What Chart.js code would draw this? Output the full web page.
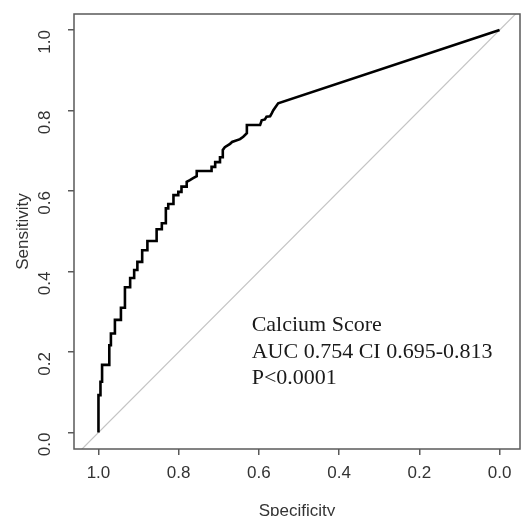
<!DOCTYPE html>
<html>
<head>
<meta charset="utf-8">
<script src="https://cdn.jsdelivr.net/npm/chart.js@4/dist/chart.umd.min.js"></script>
<style>
  html, body { margin: 0; padding: 0; background: #ffffff; }
  #wrap { width: 526px; height: 516px; }
</style>
</head>
<body>
<div id="wrap"><canvas id="c" width="526" height="516"></canvas></div>
<script>
// ROC curve: specificity (x, reversed) and sensitivity (y)
const specificity = [1.000,1.000,0.995,0.995,0.991,0.991,0.973,0.973,0.969,0.969,0.959,0.959,0.944,0.944,0.934,0.934,0.921,0.921,0.911,0.911,0.903,0.903,0.891,0.891,0.878,0.878,0.855,0.855,0.842,0.842,0.832,0.832,0.826,0.826,0.813,0.813,0.801,0.801,0.793,0.793,0.780,0.780,0.772,0.764,0.755,0.755,0.718,0.718,0.709,0.709,0.697,0.697,0.690,0.690,0.685,0.672,0.667,0.647,0.639,0.630,0.630,0.597,0.593,0.585,0.581,0.572,0.568,0.564,0.552,0.000];
const sensitivity = [0.000,0.093,0.093,0.126,0.126,0.168,0.168,0.217,0.217,0.246,0.246,0.280,0.280,0.310,0.310,0.361,0.361,0.384,0.384,0.404,0.404,0.424,0.424,0.453,0.453,0.476,0.476,0.505,0.505,0.520,0.520,0.557,0.557,0.568,0.568,0.590,0.590,0.598,0.598,0.611,0.611,0.623,0.627,0.632,0.637,0.650,0.650,0.660,0.660,0.672,0.672,0.684,0.684,0.702,0.709,0.717,0.722,0.729,0.735,0.744,0.764,0.764,0.776,0.778,0.785,0.786,0.793,0.801,0.818,1.000];
// chance diagonal (sensitivity = 1 - specificity), clipped to plot box
const diagSpec = [1.2, -0.2];
const diagSens = [-0.2, 1.2];
const tickValues = [0, 0.2, 0.4, 0.6, 0.8, 1.0];
const xTitle = "Specificity";
const yTitle = "Sensitivity";
const annotationLines = ["Calcium Score", "AUC 0.754 CI 0.695-0.813", "P<0.0001"];

const rocPoints = specificity.map((s, i) => ({ x: s, y: sensitivity[i] }));
const diagPoints = diagSpec.map((s, i) => ({ x: s, y: diagSens[i] }));

const boxPlugin = {
  id: 'boxPlugin',
  afterDraw(chart) {
    const { ctx, chartArea: a, scales } = chart;
    ctx.save();
    ctx.strokeStyle = '#5a5a5a';
    ctx.lineWidth = 1.5;
    ctx.strokeRect(a.left, a.top, a.right - a.left, a.bottom - a.top);
    ctx.fillStyle = '#1a1a1a';
    ctx.font = '22px "Liberation Serif", "Times New Roman", serif';
    ctx.textAlign = 'left';
    ctx.textBaseline = 'middle';
    const x0 = scales.x.getPixelForValue(0.618);
    const ys = [0.267, 0.200, 0.135];
    annotationLines.forEach((t, i) => {
      ctx.fillText(t, x0, scales.y.getPixelForValue(ys[i]));
    });
    ctx.restore();
  }
};

const tickFont = { family: '"Liberation Sans", Arial, sans-serif', size: 17 };

new Chart(document.getElementById('c'), {
  type: 'scatter',
  data: {
    datasets: [
      {
        data: diagPoints,
        showLine: true,
        borderColor: '#c4c4c4',
        borderWidth: 1.2,
        pointRadius: 0,
        order: 2
      },
      {
        data: rocPoints,
        showLine: true,
        borderColor: '#000000',
        borderWidth: 2.6,
        pointRadius: 0,
        tension: 0,
        order: 1
      }
    ]
  },
  options: {
    responsive: false,
    animation: false,
    events: [],
    layout: { padding: { top: 14, right: 6, left: 0, bottom: 0 } },
    plugins: { legend: { display: false }, tooltip: { enabled: false } },
    scales: {
      x: {
        type: 'linear',
        reverse: true,
        min: -0.051,
        max: 1.061,
        afterBuildTicks(scale) { scale.ticks = tickValues.map(v => ({ value: v })); },
        afterFit(scale) { scale.height = 67; scale.paddingLeft = 0; scale.paddingRight = 0; },
        grid: { display: true, drawOnChartArea: false, drawTicks: true, tickLength: 6, color: '#5a5a5a', lineWidth: 1.5 },
        border: { display: false },
        ticks: { font: tickFont, color: '#333333', padding: 8, maxRotation: 0, minRotation: 0, callback: v => v.toFixed(1) },
        title: { display: true, text: xTitle, font: tickFont, color: '#333333', padding: { top: 12, bottom: -6 } }
      },
      y: {
        type: 'linear',
        min: -0.041,
        max: 1.040,
        afterBuildTicks(scale) { scale.ticks = tickValues.map(v => ({ value: v })); },
        afterFit(scale) { scale.width = 74; scale.paddingTop = 0; scale.paddingBottom = 0; },
        grid: { display: true, drawOnChartArea: false, drawTicks: true, tickLength: 6, color: '#5a5a5a', lineWidth: 1.5 },
        border: { display: false },
        ticks: { font: tickFont, color: '#333333', padding: 23, minRotation: 90, maxRotation: 90, callback: v => v.toFixed(1) },
        title: { display: true, text: yTitle, font: tickFont, color: '#333333', padding: { top: 13, bottom: 13 } }
      }
    }
  },
  plugins: [boxPlugin]
});
</script>
</body>
</html>
